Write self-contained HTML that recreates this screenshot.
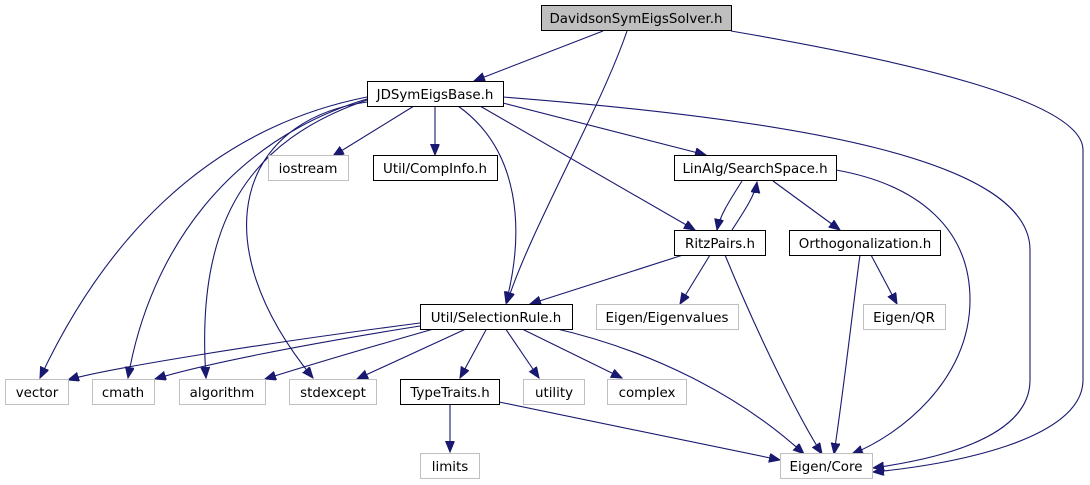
<!DOCTYPE html>
<html><head><meta charset="utf-8"><style>
html,body{margin:0;padding:0;background:#fff;}
svg{display:block;}
text{font-family:"DejaVu Sans","Liberation Sans",sans-serif;font-size:13.4px;fill:#000;}
</style></head><body>
<svg width="1090" height="485" viewBox="0 0 1090 485" xmlns="http://www.w3.org/2000/svg">
<defs>
<marker id="a" markerUnits="userSpaceOnUse" markerWidth="12" markerHeight="10" refX="11" refY="4.5" orient="auto">
<path d="M0,0 L11,4.5 L0,9 z" fill="#191970" stroke="#191970"/>
</marker>
</defs>
<g fill="none" stroke="#191970" stroke-width="1.1" marker-end="url(#a)">
<path d="M603,31 L474,81"/>
<path d="M627,31 C600,110 530,230 507,303"/>
<path d="M731,31 C900,60 1083,100 1083,150 L1083,380 C1083,440 950,465 873,472"/>
<path d="M367,97 C200,130 100,250 40,378"/>
<path d="M367,99 C230,140 150,250 128,378"/>
<path d="M367,100 C250,140 195,220 206,378"/>
<path d="M367,102 C240,120 200,240 313,378"/>
<path d="M414,106 L333,156"/>
<path d="M435,106 L435,155"/>
<path d="M458,106 C520,150 525,230 506,303"/>
<path d="M480,106 L695,230"/>
<path d="M503,103 L706,155"/>
<path d="M503,97 C800,120 1030,160 1030,250 L1030,380 C1030,440 930,460 873,468"/>
<path d="M742,181 C730,200 720,215 717,230"/>
<path d="M732,230 C745,210 755,195 757,182"/>
<path d="M773,181 L840,230"/>
<path d="M836,170 C920,185 970,230 970,300 C970,380 900,435 852,454"/>
<path d="M860,255 C855,290 845,380 834,454"/>
<path d="M871,255 L897,304"/>
<path d="M683,255 L530,304"/>
<path d="M710,255 L680,304"/>
<path d="M725,255 C760,340 800,420 822,454"/>
<path d="M420,323 C250,345 100,370 68,380"/>
<path d="M420,326 C300,345 200,365 155,379"/>
<path d="M437,328 C360,350 300,368 265,379"/>
<path d="M468,328 L357,379"/>
<path d="M487,328 L460,378"/>
<path d="M505,328 L539,378"/>
<path d="M520,328 L622,378"/>
<path d="M553,328 C650,350 740,395 804,454"/>
<path d="M450,402 L450,452"/>
<path d="M499,402 L780,460"/>
</g>
<g stroke-width="1">
<rect x="541.5" y="5.5" width="190" height="25" fill="#bfbfbf" stroke="#000"/>
<rect x="367.5" y="81.5" width="136" height="25" fill="#fff" stroke="#000"/>
<rect x="268.5" y="155.5" width="80" height="25" fill="#fff" stroke="#bfbfbf"/>
<rect x="373.5" y="155.5" width="124" height="25" fill="#fff" stroke="#000"/>
<rect x="674.5" y="155.5" width="162" height="25" fill="#fff" stroke="#000"/>
<rect x="674.5" y="230.5" width="91" height="25" fill="#fff" stroke="#000"/>
<rect x="789.5" y="230.5" width="151" height="25" fill="#fff" stroke="#000"/>
<rect x="420.5" y="304.5" width="152" height="25" fill="#fff" stroke="#000"/>
<rect x="596.5" y="304.5" width="142" height="25" fill="#fff" stroke="#bfbfbf"/>
<rect x="863.5" y="304.5" width="82" height="25" fill="#fff" stroke="#bfbfbf"/>
<rect x="5.5" y="379.5" width="63" height="25" fill="#fff" stroke="#bfbfbf"/>
<rect x="92.5" y="379.5" width="62" height="25" fill="#fff" stroke="#bfbfbf"/>
<rect x="179.5" y="379.5" width="86" height="25" fill="#fff" stroke="#bfbfbf"/>
<rect x="289.5" y="379.5" width="87" height="25" fill="#fff" stroke="#bfbfbf"/>
<rect x="400.5" y="379.5" width="99" height="25" fill="#fff" stroke="#000"/>
<rect x="523.5" y="379.5" width="61" height="25" fill="#fff" stroke="#bfbfbf"/>
<rect x="607.5" y="379.5" width="79" height="25" fill="#fff" stroke="#bfbfbf"/>
<rect x="420.5" y="453.5" width="59" height="25" fill="#fff" stroke="#bfbfbf"/>
<rect x="780.5" y="453.5" width="92" height="25" fill="#fff" stroke="#bfbfbf"/>
</g>
<g text-anchor="middle">
<text x="636" y="23">DavidsonSymEigsSolver.h</text>
<text x="435" y="99">JDSymEigsBase.h</text>
<text x="308" y="173">iostream</text>
<text x="435" y="173">Util/CompInfo.h</text>
<text x="755" y="173">LinAlg/SearchSpace.h</text>
<text x="720" y="248">RitzPairs.h</text>
<text x="865" y="248">Orthogonalization.h</text>
<text x="496" y="322">Util/SelectionRule.h</text>
<text x="667" y="322">Eigen/Eigenvalues</text>
<text x="904" y="322">Eigen/QR</text>
<text x="37" y="397">vector</text>
<text x="123" y="397">cmath</text>
<text x="222" y="397">algorithm</text>
<text x="333" y="397">stdexcept</text>
<text x="450" y="397">TypeTraits.h</text>
<text x="554" y="397">utility</text>
<text x="647" y="397">complex</text>
<text x="450" y="471">limits</text>
<text x="826" y="471">Eigen/Core</text>
</g>
</svg>
</body></html>
